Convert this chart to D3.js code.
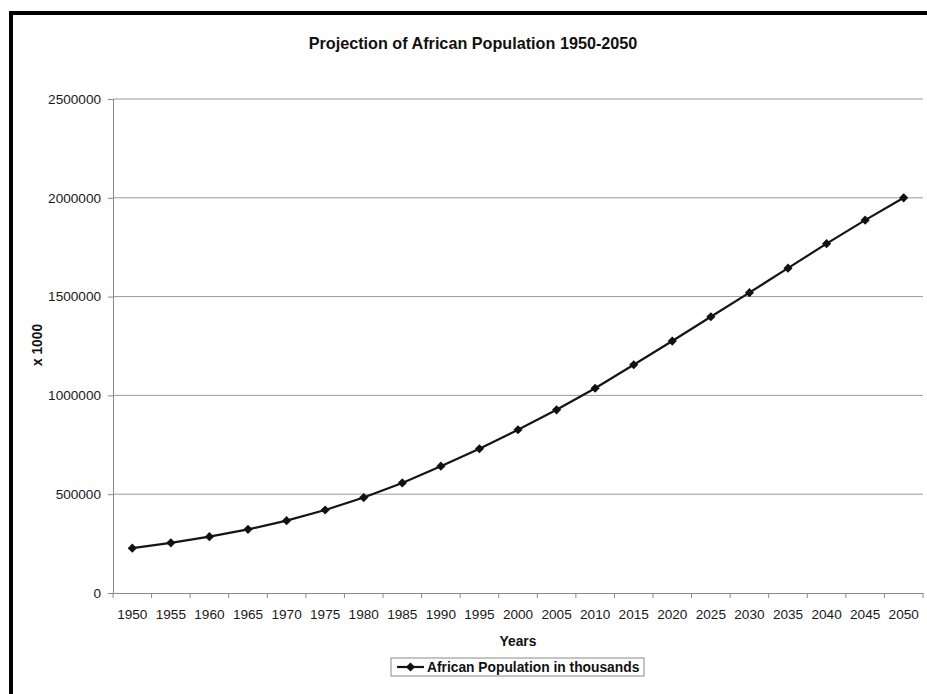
<!DOCTYPE html>
<html><head><meta charset="utf-8">
<script src="https://cdn.jsdelivr.net/npm/d3@7"></script>
<style>
html,body{margin:0;padding:0;background:#fff;overflow:hidden;}
svg{display:block;font-family:"Liberation Sans",Arial,sans-serif;}
</style></head>
<body>
<svg id="chart" width="927" height="694"></svg>
<script>
const years = ["1950","1955","1960","1965","1970","1975","1980","1985","1990","1995","2000","2005","2010","2015","2020","2025","2030","2035","2040","2045","2050"];
const population = [227000,254000,285000,322000,366000,420000,483000,557000,642000,730000,826000,927000,1036000,1155000,1275000,1398000,1520000,1644000,1768000,1887000,2000000];
const yTicks = [0,500000,1000000,1500000,2000000,2500000];
const title = "Projection of African Population 1950-2050";
const xTitle = "Years";
const yTitle = "x 1000";
const seriesName = "African Population in thousands";

const svg = d3.select("#chart");
const plotL = 113, plotR = 923, plotT = 99, plotB = 593;
const tickFont = 13.6, labFont = 13.8;

// outer frame
svg.append("rect").attr("x",11).attr("y",13).attr("width",960).attr("height",720)
  .attr("fill","none").attr("stroke","#000").attr("stroke-width",4);

const x = d3.scaleBand().domain(years).range([plotL,plotR]).padding(0);
const y = d3.scaleLinear().domain([0,2500000]).range([plotB,plotT]);

// gridlines
svg.append("g").selectAll("line").data(yTicks.filter(d=>d>0)).join("line")
  .attr("x1",plotL).attr("x2",plotR).attr("y1",d=>y(d)).attr("y2",d=>y(d))
  .attr("stroke","#9a9a9a").attr("stroke-width",1);

// y axis
const yAxis = svg.append("g").attr("transform",`translate(${plotL},0)`)
  .call(d3.axisLeft(y).tickValues(yTicks).tickSize(5).tickPadding(7).tickFormat(d3.format("d")));
yAxis.select(".domain").attr("stroke","#8a8a8a");
yAxis.selectAll(".tick line").attr("stroke","#8a8a8a");
yAxis.selectAll("text").attr("font-size",tickFont).attr("fill","#1a1a1a").attr("font-family","Liberation Sans, Arial, sans-serif");

// x axis
const xAxis = svg.append("g").attr("transform",`translate(0,${plotB})`)
  .call(d3.axisBottom(x).tickSize(0).tickPadding(16));
xAxis.select(".domain").attr("stroke","#8a8a8a");
xAxis.selectAll("text").attr("font-size",tickFont).attr("fill","#1a1a1a").attr("font-family","Liberation Sans, Arial, sans-serif");
// boundary ticks
const bounds = years.map(d=>x(d)).concat([plotR]);
svg.append("g").selectAll("line").data(bounds).join("line")
  .attr("x1",d=>d).attr("x2",d=>d).attr("y1",plotB).attr("y2",plotB+5)
  .attr("stroke","#8a8a8a");

// line
const cx = d => x(d) + x.bandwidth()/2;
const line = d3.line().x((d,i)=>cx(years[i])).y(d=>y(d));
svg.append("path").datum(population).attr("d",line)
  .attr("fill","none").attr("stroke","#151515").attr("stroke-width",2.2);

const marker = d3.symbol().type(d3.symbolSquare).size(42);
svg.append("g").selectAll("path").data(population).join("path")
  .attr("d",marker)
  .attr("transform",(d,i)=>`translate(${cx(years[i])},${y(d)}) rotate(45)`)
  .attr("fill","#111");

// titles
svg.append("text").attr("x",473).attr("y",49).attr("text-anchor","middle")
  .attr("font-size",16.2).attr("font-weight","bold").attr("fill","#111").text(title);
svg.append("text").attr("x",(plotL+plotR)/2).attr("y",646).attr("text-anchor","middle")
  .attr("font-size",labFont).attr("font-weight","bold").attr("fill","#111").text(xTitle);
svg.append("text").attr("transform","translate(41.5,345) rotate(-90)").attr("text-anchor","middle")
  .attr("font-size",labFont).attr("font-weight","bold").attr("fill","#111").text(yTitle);

// legend
const lg = svg.append("g");
lg.append("rect").attr("x",391).attr("y",658).attr("width",253).attr("height",18)
  .attr("fill","#fff").attr("stroke","#8a8a8a").attr("stroke-width",1);
lg.append("line").attr("x1",397).attr("x2",424).attr("y1",667).attr("y2",667)
  .attr("stroke","#151515").attr("stroke-width",2.2);
lg.append("path").attr("d",marker).attr("transform","translate(410.5,667) rotate(45)").attr("fill","#111");
lg.append("text").attr("x",427).attr("y",672).attr("font-size",labFont).attr("font-weight","bold")
  .attr("fill","#111").text(seriesName);
</script>
</body></html>
